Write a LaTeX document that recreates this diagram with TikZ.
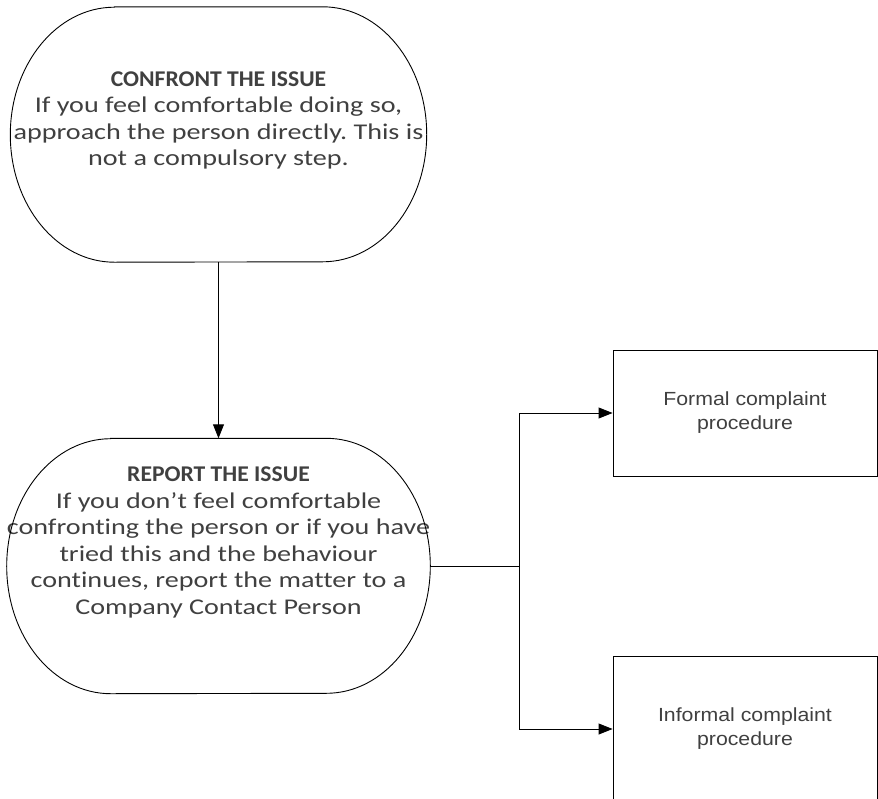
\documentclass[tikz,border=0pt]{standalone}
\usepackage{fontspec}
\setmainfont[FakeStretch=1.25,Ligatures=NoCommon,BoldFeatures={FakeStretch=1.05}]{Carlito}
\newfontfamily\boxfont[FakeStretch=1.12]{Liberation Sans}
\usetikzlibrary{arrows.meta}
\definecolor{txtgray}{HTML}{404040}
\frenchspacing

\begin{document}
\begin{tikzpicture}[x=1pt,y=1pt]

\tikzset{stage/.style = {shape=rectangle,inner sep=0pt,minimum width=416pt,minimum height=255pt,align=center,text=txtgray,font=\fontsize{22.5}{26.5}\selectfont}}
\tikzset{outcome/.style = {shape=rectangle,draw,line width=0.9pt,inner sep=0pt,minimum width=264pt,align=center,text=txtgray,font=\boxfont\fontsize{19}{24}\selectfont}}
\tikzset{link/.style = {line width=0.9pt,-{Triangle[length=14pt,width=11pt]}}}

\useasboundingbox (0,0) rectangle (878,-798);
\clip (0,0) rectangle (878,-798);

% stages
\node[stage] (confront) at (218.5,-134.5) {\textbf{CONFRONT THE ISSUE}\\If you feel comfortable doing so,\\approach the person directly. This is\\not a compulsory step.\\[5pt]\mbox{}};
\node[stage] (report) at (218.5,-566) {\textbf{REPORT THE ISSUE}\\If you don’t feel comfortable\\confronting the person or if you have\\tried this and the behaviour\\continues, report the matter to a\\Company Contact Person\\[24pt]\mbox{}};

\foreach \n in {confront,report}
  \draw[line width=0.9pt] ([xshift=104pt]\n.north west) -- ([xshift=-104pt]\n.north east)
    arc[start angle=90,end angle=-90,x radius=104pt,y radius=127.5pt]
    -- ([xshift=104pt]\n.south west)
    arc[start angle=270,end angle=90,x radius=104pt,y radius=127.5pt] -- cycle;

% procedures
\node[outcome,minimum height=126pt] (formal) at (745,-413) {Formal complaint\\procedure};
\node[outcome,minimum height=146pt] (informal) at (745,-729) {Informal complaint\\procedure};

%edges
\coordinate (split) at (519,-566);
\draw[link] (confront) -- (report);
\draw[line width=0.9pt] (report.east) -- (split);
\draw[link] (split) |- (formal);
\draw[link] (split) |- (informal);
\end{tikzpicture}
\end{document}
